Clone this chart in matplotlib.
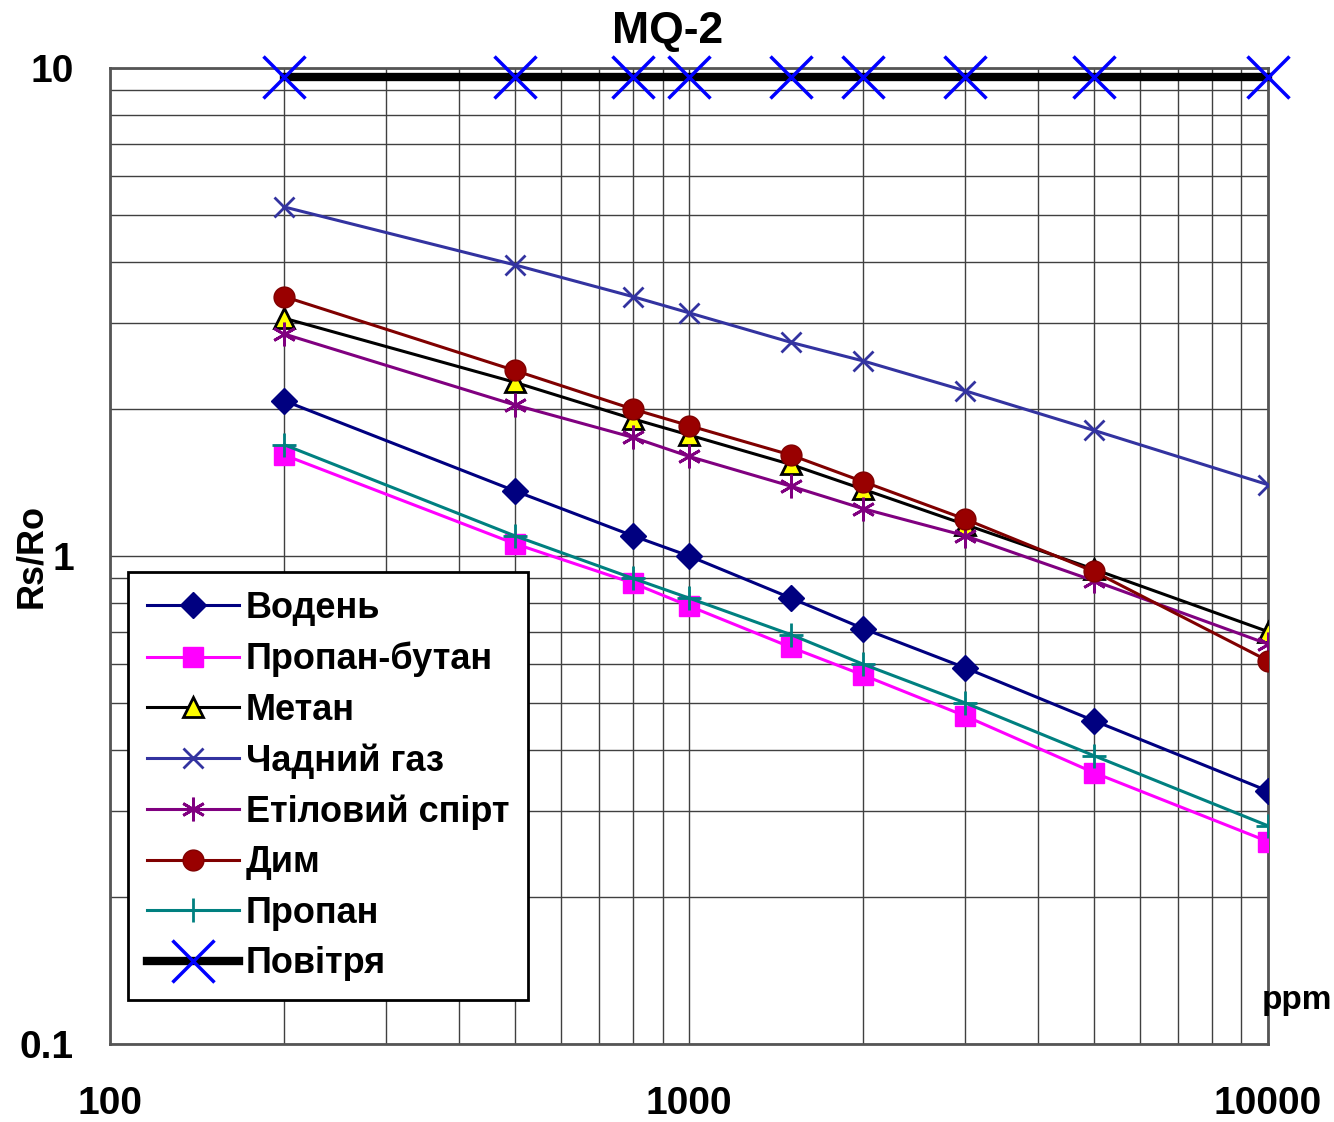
import matplotlib
matplotlib.use("Agg")
import matplotlib.pyplot as plt
from matplotlib.ticker import FixedLocator, FixedFormatter, NullFormatter, LogLocator

# ---------------- data ----------------
ppm = [200, 500, 800, 1000, 1500, 2000, 3000, 5000, 10000]

vodeny = [2.08, 1.36, 1.10, 1.00, 0.82, 0.71, 0.59, 0.46, 0.33]
propan_butan = [1.61, 1.06, 0.88, 0.79, 0.65, 0.57, 0.47, 0.36, 0.26]
metan = [3.07, 2.27, 1.91, 1.77, 1.54, 1.37, 1.16, 0.94, 0.70]
chadnyi_gaz = [5.19, 3.95, 3.40, 3.15, 2.74, 2.51, 2.18, 1.81, 1.40]
etanol = [2.85, 2.04, 1.75, 1.60, 1.39, 1.25, 1.10, 0.89, 0.66]
dym = [3.40, 2.40, 2.00, 1.85, 1.61, 1.42, 1.19, 0.93, 0.61]
propan = [1.69, 1.10, 0.90, 0.82, 0.69, 0.60, 0.50, 0.39, 0.28]
povitria = [9.6, 9.6, 9.6, 9.6, 9.6, 9.6, 9.6, 9.6, 9.6]

labels = ["Водень", "Пропан-бутан", "Метан", "Чадний газ",
          "Етіловий спірт", "Дим", "Пропан", "Повітря"]

x_ticks = [100, 1000, 10000]
x_tick_labels = ["100", "1000", "10000"]
y_ticks = [0.1, 1, 10]
y_tick_labels = ["0.1", "1", "10"]

# ---------------- figure ----------------
fig = plt.figure(figsize=(13.34, 11.22), dpi=100)
ax = fig.add_axes([0.0825, 0.0695, 0.868, 0.8699])

font = "Liberation Sans"

ax.plot(ppm, vodeny, color="#000080", lw=2.2, marker="D", ms=13,
        mfc="#000080", mec="#000080", label=labels[0], zorder=5)
ax.plot(ppm, propan_butan, color="#FF00FF", lw=2.2, marker="s", ms=15,
        mfc="#FF00FF", mec="#FF00FF", label=labels[1], zorder=5)
ax.plot(ppm, metan, color="black", lw=2.2, marker="^", ms=14,
        mfc="#FFFF00", mec="black", mew=2, label=labels[2], zorder=5)
ax.plot(ppm, chadnyi_gaz, color="#3333A0", lw=2.2, marker="x", ms=15,
        mew=2, mec="#3333A0", label=labels[3], zorder=5)
ax.plot(ppm, etanol, color="#800080", lw=2.2, marker=(6, 2, 0), ms=17,
        mew=2, mec="#800080", label=labels[4], zorder=5)
ax.plot(ppm, dym, color="#800000", lw=2.2, marker="o", ms=15,
        mfc="#990000", mec="#800000", label=labels[5], zorder=5)
ax.plot(ppm, propan, color="#008080", lw=2.2, marker="+", ms=17,
        mew=2, mec="#008080", label=labels[6], zorder=5)
ax.plot(ppm, povitria, color="black", lw=6, marker="x", ms=30,
        mew=2.5, mec="#0000FF", label=labels[7], zorder=6, clip_on=False)

ax.set_xscale("log")
ax.set_yscale("log")
ax.set_xlim(100, 10000)
ax.set_ylim(0.1, 10)

# grid
ax.xaxis.set_minor_locator(LogLocator(base=10, subs=range(2, 10)))
ax.yaxis.set_minor_locator(LogLocator(base=10, subs=range(2, 10)))
ax.xaxis.set_minor_formatter(NullFormatter())
ax.yaxis.set_minor_formatter(NullFormatter())
ax.grid(True, which="both", color="#404040", lw=1.0)
ax.set_axisbelow(True)

ax.xaxis.set_major_locator(FixedLocator(x_ticks))
ax.xaxis.set_major_formatter(FixedFormatter(x_tick_labels))
ax.yaxis.set_major_locator(FixedLocator(y_ticks))
ax.yaxis.set_major_formatter(FixedFormatter(y_tick_labels))
ax.tick_params(which="both", length=0)
ax.tick_params(axis="x", pad=30)
ax.tick_params(axis="y", pad=26)

for lab in ax.get_xticklabels() + ax.get_yticklabels():
    lab.set_fontfamily(font)
    lab.set_fontweight("bold")
    lab.set_fontsize(28)

for sp in ax.spines.values():
    sp.set_color("#555555")
    sp.set_linewidth(2)

# title sits a little left of centre in the original
fig.text(668 / 1334, 1 - 32 / 1122, "MQ-2", ha="center", va="center",
         fontfamily=font, fontweight="bold", fontsize=32)
ax.set_ylabel("Rs/Ro", fontfamily=font, fontweight="bold", fontsize=26)
ax.yaxis.set_label_coords(-0.053, 0.5)
ax.text(0.995, 0.045, "ppm", transform=ax.transAxes, ha="left", va="center",
        fontfamily=font, fontweight="bold", fontsize=24)

leg = ax.legend(loc="lower left", bbox_to_anchor=(0.0155, 0.045),
                borderaxespad=0, fancybox=False, framealpha=1,
                edgecolor="black", handlelength=2.55, handletextpad=0.2,
                labelspacing=0.43, borderpad=0.52,
                prop={"family": font, "weight": "bold", "size": 26})
leg.get_frame().set_linewidth(2)
leg.set_zorder(10)

fig.savefig("out.png", dpi=100)
